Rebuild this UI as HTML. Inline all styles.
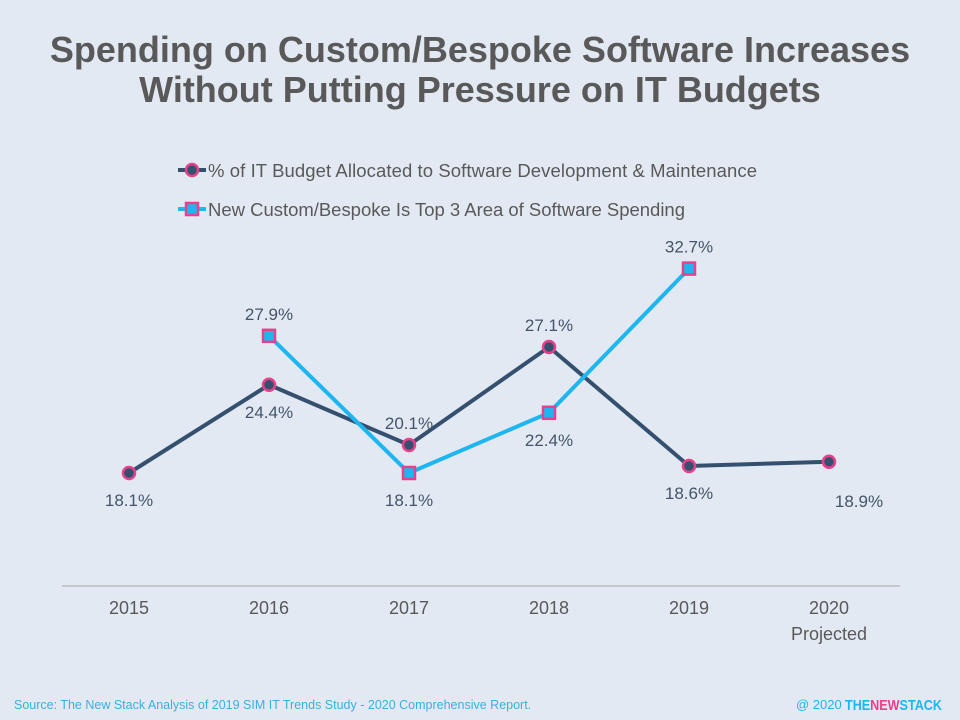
<!DOCTYPE html>
<html><head><meta charset="utf-8"><style>
body{margin:0;background:#e2e9f3;}
svg{display:block;font-family:"Liberation Sans","DejaVu Sans",sans-serif;}
</style></head><body>
<svg id="chart" width="960" height="720" viewBox="0 0 960 720">
<rect width="960" height="720" fill="#e2e9f3"/>
<text x="480" y="62" text-anchor="middle" font-size="36" font-weight="bold" fill="#595959">Spending on Custom/Bespoke Software Increases</text>
<text x="480" y="102" text-anchor="middle" font-size="36" font-weight="bold" fill="#595959">Without Putting Pressure on IT Budgets</text>
<g>
<g>
<line x1="178" y1="170" x2="206" y2="170" stroke="#34506e" stroke-width="4"/>
<circle cx="192" cy="170" r="6" fill="#34506e" stroke="#e8408a" stroke-width="2.5"/>
<text x="208" y="177" font-size="18.5" fill="#595959" textLength="549">% of IT Budget Allocated to Software Development &amp; Maintenance</text>
</g>
<g>
<line x1="178" y1="209" x2="206" y2="209" stroke="#1eb6f0" stroke-width="4"/>
<rect x="186" y="203" width="12" height="12" fill="#1eb6f0" stroke="#e8408a" stroke-width="2.5"/>
<text x="208" y="216" font-size="18.5" fill="#595959" textLength="477">New Custom/Bespoke Is Top 3 Area of Software Spending</text>
</g>
</g>
<line x1="62" y1="586" x2="900" y2="586" stroke="#a6a6a6" stroke-width="1"/>
<g id="xlabels"></g>
<g id="series"></g>
<text x="14" y="709" font-size="12.5" fill="#3ab0e0">Source: The New Stack Analysis of 2019 SIM IT Trends Study - 2020 Comprehensive Report.</text>
<text x="796" y="709" font-size="13" fill="#1eb6f0">@ 2020</text>
<text x="845" y="710" font-size="15" font-weight="bold" textLength="97" lengthAdjust="spacingAndGlyphs"><tspan fill="#1eb6f0">THE</tspan><tspan fill="#e8408a">NEW</tspan><tspan fill="#1eb6f0">STACK</tspan></text>
</svg>
<script>
const categories = ["2015","2016","2017","2018","2019","2020"];
const budgetValues = [18.1,24.4,20.1,27.1,18.6,18.9];
const customValues = [null,27.9,18.1,22.4,32.7,null];
const budgetLabelPos = ["below","below","above","above","below","belowright"];
const customLabelPos = [null,"above","below","below","above",null];
const NS="http://www.w3.org/2000/svg";
function xScale(i){return 129+i*140;}
function yScale(v){return 726.4-v*14;}
const xl=document.getElementById('xlabels');
categories.forEach((c,i)=>{
  const t=document.createElementNS(NS,'text');
  t.setAttribute('x',xScale(i));t.setAttribute('y',614);
  t.setAttribute('text-anchor','middle');t.setAttribute('font-size','18');t.setAttribute('fill','#595959');
  t.textContent=c;
  
  
  xl.appendChild(t);
  if(i===5){
    const t2=document.createElementNS(NS,'text');
    t2.setAttribute('x',xScale(i));t2.setAttribute('y',640);
    t2.setAttribute('text-anchor','middle');t2.setAttribute('font-size','18');t2.setAttribute('fill','#595959');
    t2.textContent='Projected';
    
    
    xl.appendChild(t2);
  }
});
const g=document.getElementById('series');
function drawSeries(vals,color,shape,pos,name){
  const pts=[];vals.forEach((v,i)=>{if(v!==null)pts.push([xScale(i),yScale(v),v,i]);});
  const pl=document.createElementNS(NS,'polyline');
  pl.setAttribute('points',pts.map(p=>p[0]+','+p[1]).join(' '));
  pl.setAttribute('fill','none');pl.setAttribute('stroke',color);pl.setAttribute('stroke-width','4');
  
  
  g.appendChild(pl);
  pts.forEach(p=>{
    let m;
    if(shape==='circle'){m=document.createElementNS(NS,'circle');m.setAttribute('cx',p[0]);m.setAttribute('cy',p[1]);m.setAttribute('r',6);}
    else{m=document.createElementNS(NS,'rect');m.setAttribute('x',p[0]-6);m.setAttribute('y',p[1]-6);m.setAttribute('width',12);m.setAttribute('height',12);}
    m.setAttribute('fill',color);m.setAttribute('stroke','#e8408a');m.setAttribute('stroke-width','2.5');
    
    
    g.appendChild(m);
    const t=document.createElementNS(NS,'text');
    const ps=pos[p[3]];
    let tx=p[0],ty=p[1]+33;
    if(ps==='above')ty=p[1]-16;
    if(ps==='belowright'){tx=p[0]+30;ty=p[1]+45;}
    t.setAttribute('x',tx);t.setAttribute('y',ty);t.setAttribute('text-anchor','middle');
    t.setAttribute('font-size','17');t.setAttribute('fill','#44546a');
    t.textContent=p[2].toFixed(1)+'%';
    
    
    g.appendChild(t);
  });
}
drawSeries(budgetValues,'#34506e','circle',budgetLabelPos,'budget');
drawSeries(customValues,'#1eb6f0','square',customLabelPos,'custom');
</script>
</body></html>
